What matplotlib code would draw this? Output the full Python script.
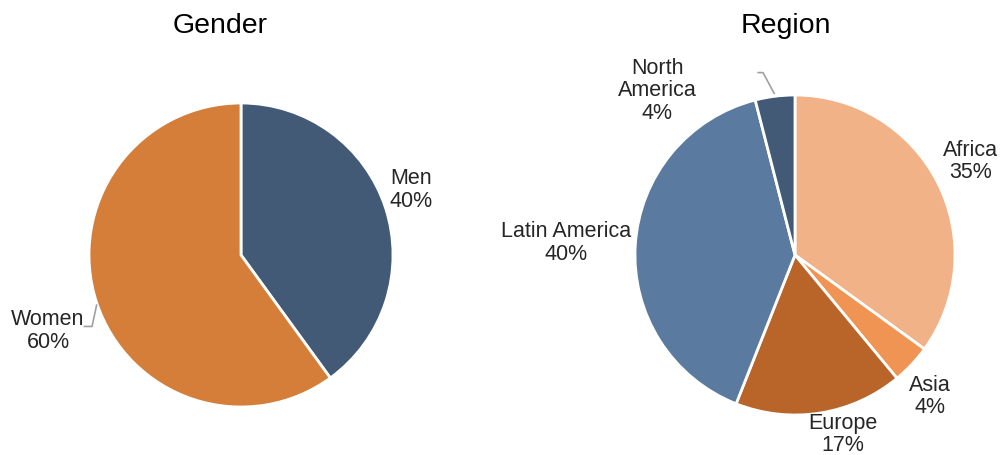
import matplotlib.pyplot as plt
import numpy as np

plt.rcParams['font.family'] = ['Liberation Sans', 'DejaVu Sans']

# Gender split
gender_labels = ['Men', 'Women']
gender_values = [40, 60]
gender_colors = ['#435a77', '#d47e3a']

# Regional split, clockwise from 12 o'clock
region_labels = ['Africa', 'Asia', 'Europe', 'Latin America', 'North\nAmerica']
region_values = [35, 4, 17, 40, 4]
region_colors = ['#f2b287', '#ef9452', '#b96428', '#5a7b9f', '#435a77']

# label placement: (angle in degrees, radius) around each pie
gender_label_pos = [(20.9, 1.20), (201.5, 1.365)]
region_label_pos = [(28, 1.24), (-46.4, 1.22), (-75, 1.16), (177, 1.43), (130, 1.34)]

txt_color = '#262626'

fig = plt.figure(figsize=(10.01, 4.55), dpi=100)
W, H = 1001, 455


def make_ax(cx, cy, r):
    return fig.add_axes([(cx - r) / W, (H - cy - r) / H, 2 * r / W, 2 * r / H])


def draw_pie(ax, values, colors, labels, label_pos, title, title_xy):
    ax.pie(values, colors=colors, startangle=90, counterclock=False,
           radius=1, wedgeprops=dict(edgecolor='white', linewidth=2))
    ax.set_xlim(-1, 1)
    ax.set_ylim(-1, 1)
    ax.set_aspect('equal')
    ax.axis('off')
    total = sum(values)
    for lab, v, (ang, rr) in zip(labels, values, label_pos):
        a = np.deg2rad(ang)
        ax.text(rr * np.cos(a), rr * np.sin(a), f'{lab}\n{round(100 * v / total)}%',
                ha='center', va='center', fontsize=15.5, color=txt_color,
                linespacing=1.08, clip_on=False)
    fig.text(title_xy[0] / W, 1 - title_xy[1] / H, title, ha='center', va='center',
             fontsize=20.5, color='black')


ax1 = make_ax(241, 255, 152)
draw_pie(ax1, gender_values, gender_colors, gender_labels, gender_label_pos,
         'Gender', (220, 26))
# leader line to the Women label
ax1.plot([-1.03, -0.98, -0.95], [-0.47, -0.47, -0.33], color='#a0a0a0',
         lw=1.2, clip_on=False)

ax2 = make_ax(795, 255, 160)
draw_pie(ax2, region_values, region_colors, region_labels, region_label_pos,
         'Region', (786, 26))
# leader line to the North America label
ax2.plot([-0.23, -0.2, -0.13], [1.14, 1.14, 1.01], color='#a0a0a0',
         lw=1.2, clip_on=False)

fig.savefig('out.png', dpi=100)
